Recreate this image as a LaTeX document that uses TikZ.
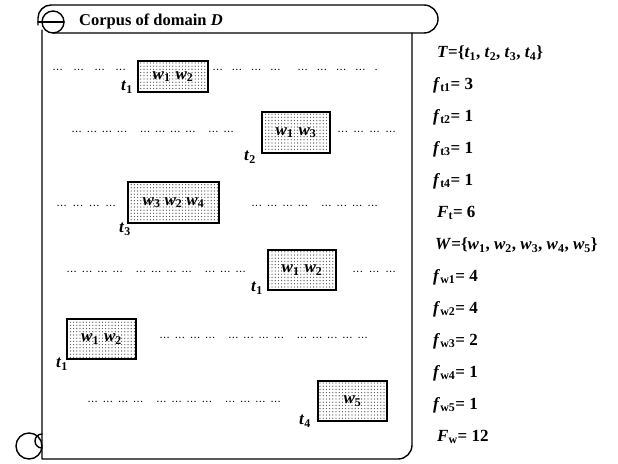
\documentclass[tikz,border=0pt]{standalone}
\usepackage{fontspec}
\setmainfont{Liberation Serif}
\usetikzlibrary{patterns}

\pgfdeclarepatternformonly{scandots}{\pgfqpoint{-1pt}{-1pt}}{\pgfqpoint{1pt}{1pt}}{\pgfqpoint{3.2pt}{3.2pt}}%
  {\pgfpathcircle{\pgfqpoint{0pt}{0pt}}{0.65pt}\pgfusepath{fill}}

\newcommand\grp{.\kern1.4pt.\kern1.4pt.}
\newcommand\gp{\hfill}
\newcommand\cl{\hfill\hspace{8pt}}
\newcommand\ww[1]{\textit{w}\textsubscript{#1}}
\newcommand\tl[1]{\textit{t}\textsubscript{#1}}

\begin{document}
\begin{tikzpicture}[x=1pt, y=-1pt,
  scroll/.style={line width=1.4pt, line join=round, line cap=round},
  wbox/.style={draw, line width=1.7pt, pattern=scandots, pattern color=black!70, inner sep=0pt, font=\fontsize{17}{18}\selectfont\bfseries},
  tlab/.style={font=\fontsize{17}{18}\selectfont\bfseries, inner sep=0pt},
  dts/.style={font=\fontsize{8.5}{9}\selectfont\bfseries, anchor=west, inner sep=0pt},
  stat/.style={font=\fontsize{17}{18}\selectfont\bfseries, anchor=west, inner sep=0pt}
]
  \useasboundingbox (0,0) rectangle (618,463);

  % the scroll
  \draw[scroll] (38,25) -- (38,18) arc[start angle=180, end angle=270, radius=13]
    -- (424,5) arc[start angle=270, end angle=450, radius=14] -- (53,33);
  \draw[scroll] (53,22) circle[radius=11];
  \draw[scroll] (38,22) -- (64,22);
  \draw[scroll] (42,30) -- (42,459) -- (398,459) arc[start angle=90, end angle=0, radius=14] -- (412,33);
  \draw[scroll] (29,446) circle[radius=13];
  \draw[scroll] (42,434) arc[start angle=270, end angle=90, radius=7];
  \node[anchor=west, inner sep=0pt, font=\fontsize{16.5}{18}\selectfont\bfseries] (ttl) at (79,21) {Corpus of domain \textit{D}};

  % term occurrences
  \node[wbox, minimum width=70pt, minimum height=31pt] (b1) at (173,76.5) {\ww1\hspace{5pt}\ww2};
  \node[wbox, minimum width=68pt, minimum height=41pt] (b2) at (296,132.5) {\ww1\hspace{5pt}\ww3};
  \node[wbox, minimum width=91pt, minimum height=41pt] (b3) at (173.5,202.5) {\ww3\hspace{4pt}\ww2\hspace{4pt}\ww4};
  \node[wbox, minimum width=68pt, minimum height=40pt] (b4) at (302,270) {\ww1\hspace{5pt}\ww2};
  \node[wbox, minimum width=69pt, minimum height=40pt] (b5) at (101.5,339) {\ww1\hspace{5pt}\ww2};
  \node[wbox, minimum width=69pt, minimum height=40pt] (b6) at (352.5,401) {\ww5};

  \node[tlab] (l1) at (127,87) {\tl1};
  \node[tlab] (l2) at (250,157) {\tl2};
  \node[tlab] (l3) at (125,229) {\tl3};
  \node[tlab] (l4) at (257,288) {\tl1};
  \node[tlab] (l5) at (62,364) {\tl1};
  \node[tlab] (l6) at (305,421) {\tl4};

  % filler text
  \node[dts] (d1a) at (53,70) {\makebox[72pt][s]{\grp\gp\grp\gp\grp\gp\grp}};
  \node[dts] (d1b) at (213,70) {\makebox[164pt][s]{\grp\gp\grp\gp\grp\gp\grp\cl\grp\gp\grp\gp\grp\gp\grp\gp.}};
  \node[dts] (d2a) at (72,132) {\makebox[161pt][s]{\grp\gp\grp\gp\grp\gp\grp\cl\grp\gp\grp\gp\grp\gp\grp\cl\grp\gp\grp}};
  \node[dts] (d2b) at (338,132) {\makebox[57pt][s]{\grp\gp\grp\gp\grp\gp\grp}};
  \node[dts] (d3a) at (57,206) {\makebox[58pt][s]{\grp\gp\grp\gp\grp\gp\grp}};
  \node[dts] (d3b) at (252,206) {\makebox[125pt][s]{\grp\gp\grp\gp\grp\gp\grp\cl\grp\gp\grp\gp\grp\gp\grp}};
  \node[dts] (d4a) at (67,272) {\makebox[178pt][s]{\grp\gp\grp\gp\grp\gp\grp\cl\grp\gp\grp\gp\grp\gp\grp\cl\grp\gp\grp\gp\grp}};
  \node[dts] (d4b) at (353,272) {\makebox[42pt][s]{\grp\gp\grp\gp\grp}};
  \node[dts] (d5) at (160,338) {\makebox[207pt][s]{\grp\gp\grp\gp\grp\gp\grp\cl\grp\gp\grp\gp\grp\gp\grp\cl\grp\gp\grp\gp\grp\gp\grp\gp\grp}};
  \node[dts] (d6) at (88,402) {\makebox[192pt][s]{\grp\gp\grp\gp\grp\gp\grp\cl\grp\gp\grp\gp\grp\gp\grp\cl\grp\gp\grp\gp\grp\gp\grp}};

  % frequencies
  \node[stat] (tset) at (437,53) {\textit{T}=\{\tl1, \tl2, \tl3, \tl4\}};
  \node[stat] (ft1) at (433,85) {\textit{f}\textsubscript{t1}= 3};
  \node[stat] (ft2) at (433,117) {\textit{f}\textsubscript{t2}= 1};
  \node[stat] (ft3) at (433,149) {\textit{f}\textsubscript{t3}= 1};
  \node[stat] (ft4) at (433,181) {\textit{f}\textsubscript{t4}= 1};
  \node[stat] (Ft) at (437,213) {\textit{F}\textsubscript{t}= 6};
  \node[stat] (wset) at (435,245) {\textit{W}=\{\ww1, \ww2, \ww3, \ww4, \ww5\}};
  \node[stat] (fw1) at (433,277) {\textit{f}\textsubscript{w1}= 4};
  \node[stat] (fw2) at (433,309) {\textit{f}\textsubscript{w2}= 4};
  \node[stat] (fw3) at (433,341) {\textit{f}\textsubscript{w3}= 2};
  \node[stat] (fw4) at (433,373) {\textit{f}\textsubscript{w4}= 1};
  \node[stat] (fw5) at (433,405) {\textit{f}\textsubscript{w5}= 1};
  \node[stat] (Fw) at (437,437) {\textit{F}\textsubscript{w}= 12};
\end{tikzpicture}
\end{document}
